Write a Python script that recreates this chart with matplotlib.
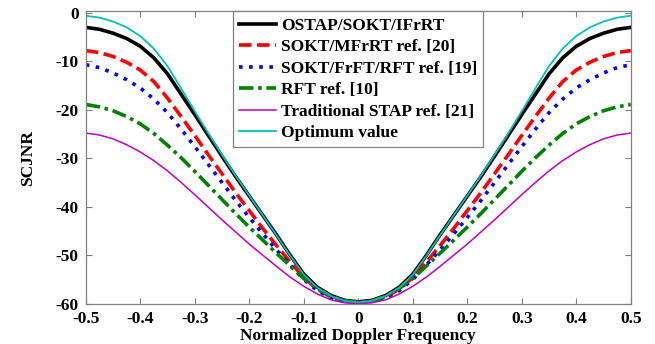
import numpy as np
import matplotlib
matplotlib.use('Agg')
from matplotlib import pyplot as plt

# normalized Doppler frequency
fd = np.linspace(-0.5, 0.5, 41)

# SCJNR (dB)
ostap = [-3.0, -3.4, -4.2, -5.3, -6.9, -9.3, -12.6, -16.8, -21.0, -25.3, -29.6, -33.8, -37.8, -41.8,
         -45.8, -50.0, -53.9, -56.6, -58.3, -59.3, -59.6,
         -59.3, -58.3, -56.6, -53.9, -50.0, -45.8, -41.8, -37.8, -33.8, -29.6, -25.3, -21.0, -16.8,
         -12.6, -9.3, -6.9, -5.3, -4.2, -3.4, -3.0]
mfrrt = [-7.8, -8.2, -9.0, -10.2, -11.8, -14.2, -17.6, -21.4, -25.3, -29.3, -33.2, -37.1, -40.8, -44.5,
         -48.0, -51.4, -54.6, -57.0, -58.6, -59.4, -59.7,
         -59.4, -58.6, -57.0, -54.6, -51.4, -48.0, -44.5, -40.8, -37.1, -33.2, -29.3, -25.3, -21.4,
         -17.6, -14.2, -11.8, -10.2, -9.0, -8.2, -7.8]
frft = [-10.7, -11.3, -12.4, -13.8, -15.5, -17.8, -20.6, -24.0, -27.6, -31.3, -35.0, -38.7, -42.2, -45.6,
        -48.9, -52.0, -55.0, -57.3, -58.8, -59.5, -59.8,
        -59.5, -58.8, -57.3, -55.0, -52.0, -48.9, -45.6, -42.2, -38.7, -35.0, -31.3, -27.6, -24.0,
        -20.6, -17.8, -15.5, -13.8, -12.4, -11.3, -10.7]
rft = [-18.9, -19.4, -20.2, -21.4, -22.9, -24.9, -27.3, -29.9, -32.7, -35.6, -38.5, -41.4, -44.2, -46.9,
       -49.6, -52.2, -54.8, -56.9, -58.5, -59.4, -59.8,
       -59.4, -58.5, -56.9, -54.8, -52.2, -49.6, -46.9, -44.2, -41.4, -38.5, -35.6, -32.7, -29.9,
       -27.3, -24.9, -22.9, -21.4, -20.2, -19.4, -18.9]
stap = [-24.8, -25.2, -26.0, -27.2, -28.7, -30.5, -32.6, -35.0, -37.5, -40.1, -42.7, -45.2, -47.7, -50.0,
        -52.3, -54.5, -56.4, -58.0, -59.2, -59.8, -60.0,
        -59.8, -59.2, -58.0, -56.4, -54.5, -52.3, -50.0, -47.7, -45.2, -42.7, -40.1, -37.5, -35.0,
        -32.6, -30.5, -28.7, -27.2, -26.0, -25.2, -24.8]
optimum = [-0.6, -1.0, -1.8, -3.0, -4.8, -7.4, -11.0, -15.6, -20.3, -24.9, -29.3, -33.6, -37.7, -41.8,
           -45.9, -50.1, -54.0, -56.7, -58.4, -59.4, -59.7,
           -59.4, -58.4, -56.7, -54.0, -50.1, -45.9, -41.8, -37.7, -33.6, -29.3, -24.9, -20.3, -15.6,
           -11.0, -7.4, -4.8, -3.0, -1.8, -1.0, -0.6]

labels = ['OSTAP/SOKT/IFrRT', 'SOKT/MFrRT ref. [20]', 'SOKT/FrFT/RFT ref. [19]',
          'RFT ref. [10]', 'Traditional STAP ref. [21]', 'Optimum value']

plt.rcParams['font.family'] = 'Liberation Serif'
plt.rcParams['font.weight'] = 'bold'
plt.rcParams['font.size'] = 12.5
plt.rcParams['xtick.direction'] = 'in'
plt.rcParams['ytick.direction'] = 'in'

fig = plt.figure(figsize=(6.55, 3.44), dpi=100)
ax = fig.add_axes([0.131, 0.117, 0.832, 0.85])

ax.plot(fd, ostap, color='k', lw=2.6, ls='-', label=labels[0])
ax.plot(fd, mfrrt, color='r', lw=2.6, ls=(0, (3.5, 1.5)), label=labels[1])
ax.plot(fd, frft, color='b', lw=2.6, ls=(0, (1, 1.8)), label=labels[2])
ax.plot(fd, rft, color=(0, 0.5, 0), lw=2.6, ls=(0, (4, 1.3, 1, 1.3)), label=labels[3])
ax.plot(fd, stap, color=(0.75, 0, 0.75), lw=1.1, ls='-', label=labels[4])
ax.plot(fd, optimum, color=(0, 0.75, 0.75), lw=1.3, ls='-', label=labels[5])

ax.set_xlim(-0.5, 0.5)
ax.set_ylim(-60, 0.3)
ax.set_xticks(np.arange(-0.5, 0.51, 0.1))
ax.set_xticklabels(['-0.5', '-0.4', '-0.3', '-0.2', '-0.1', '0', '0.1', '0.2', '0.3', '0.4', '0.5'])
ax.set_yticks(np.arange(-60, 1, 10))
ax.set_yticklabels(['-60', '-50', '-40', '-30', '-20', '-10', '0'])
ax.xaxis.set_ticks_position('both')
ax.yaxis.set_ticks_position('both')
ax.tick_params(length=4, width=0.8, color='#808080', pad=5)
for s in ax.spines.values():
    s.set_color('#808080')
    s.set_linewidth(0.9)

ax.set_xlabel('Normalized Doppler Frequency', fontweight='bold', labelpad=1)
ax.set_ylabel('SCJNR', fontweight='bold', labelpad=14)

leg = ax.legend(loc='upper center', borderaxespad=0, fancybox=False, framealpha=1,
                edgecolor='#808080', handlelength=2.1, labelspacing=0.31,
                borderpad=0.35, handletextpad=0.3, prop={'weight': 'bold', 'size': 12.5})
leg.get_frame().set_linewidth(0.9)

fig.savefig('out.png', dpi=100)
